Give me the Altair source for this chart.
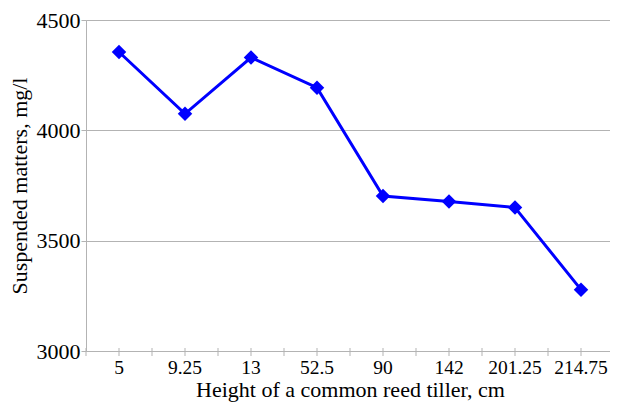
import altair as alt
import pandas as pd

heights = ["5", "9.25", "13", "52.5", "90", "142", "201.25", "214.75"]
suspended = [4355, 4075, 4330, 4193, 3702, 3678, 3650, 3278]

df = pd.DataFrame({"h": heights, "v": suspended})

FONT = "'Liberation Serif', 'Times New Roman', serif"
GRID = "#b3b3b3"
W, H = 524, 331
XR = 528  # x range extends past the visible area, like the clipped original

xscale = alt.Scale(paddingInner=0, paddingOuter=0, range=[0, XR])
xenc = alt.X("h:N", sort=heights, title="Height of a common reed tiller, cm", scale=xscale,
             axis=alt.Axis(labelAngle=0, labelAlign="center", ticks=False, domainColor=GRID,
                           labelFontSize=19.5, titleFontSize=22, labelPadding=16,
                           titlePadding=3, grid=False))
yenc = alt.Y("v:Q", title="Suspended matters, mg/l",
             scale=alt.Scale(domain=[3000, 4500], nice=False, zero=False),
             axis=alt.Axis(values=[3000, 3500, 4000, 4500], format="d", tickSize=5,
                           tickColor=GRID, domainColor=GRID, gridColor=GRID,
                           labelFontSize=22, titleFontSize=22, labelPadding=1,
                           titlePadding=5))

line = alt.Chart(df).mark_line(color="#0000ff", strokeWidth=3).encode(x=xenc, y=yenc)
pts = alt.Chart(df).mark_point(shape="diamond", filled=True, color="#0000ff", size=210,
                               opacity=1).encode(x=alt.X("h:N", sort=heights),
                                                 y=alt.Y("v:Q"))
cticks = alt.Chart(df).mark_rule(color=GRID, strokeWidth=1).encode(
    x=alt.X("h:N", sort=heights), y=alt.value(H - 3), y2=alt.value(H + 5))
bticks = alt.Chart(df).mark_rule(color=GRID, strokeWidth=1, xOffset=-XR / 16).encode(
    x=alt.X("h:N", sort=heights), y=alt.value(H - 3), y2=alt.value(H + 5))

chart = (cticks + bticks + line + pts).properties(
    width=W, height=H, autosize=alt.AutoSizeParams(type="none"),
    padding={"left": 78, "top": 12, "right": 0, "bottom": 53}
).configure_view(stroke=None).configure(background="white", font=FONT).configure_axis(
    labelFont=FONT, titleFont=FONT, labelColor="black", titleColor="black",
    titleFontWeight="normal"
)

chart.save("out.html", embed_options={"renderer": "svg", "actions": False})
